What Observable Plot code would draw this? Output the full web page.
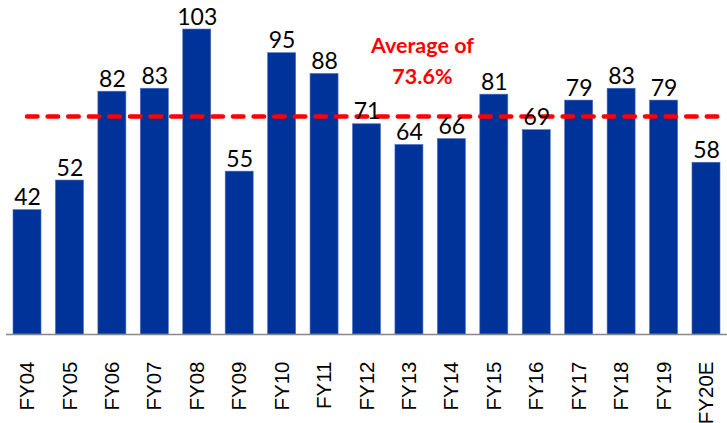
<!DOCTYPE html>
<html>
<head>
<meta charset="utf-8">
<script src="https://cdn.jsdelivr.net/npm/d3@7"></script>
<script src="https://cdn.jsdelivr.net/npm/@observablehq/plot@0.6"></script>
<style>
  html, body { margin: 0; padding: 0; background: #fff; }
  #chart svg { display: block; }
</style>
</head>
<body>
<div id="chart"></div>
<script>
const categories = ["FY04","FY05","FY06","FY07","FY08","FY09","FY10","FY11","FY12","FY13","FY14","FY15","FY16","FY17","FY18","FY19","FY20E"];
const values = [42, 52, 82, 83, 103, 55, 95, 88, 71, 64, 66, 81, 69, 79, 83, 79, 58];
const averageValue = 73.6;
const averageLabel = "Average of\n73.6%";
const annotationCategory = "FY13";

const data = categories.map((c, i) => ({cat: c, val: values[i]}));

const chart = Plot.plot({
  width: 727,
  height: 423,
  marginTop: 0,
  marginBottom: 89,
  marginLeft: 6,
  marginRight: 0,
  style: {background: "#fff"},
  x: {domain: categories, paddingInner: 0.34, paddingOuter: 0.165, round: false, label: null},
  y: {domain: [0, 112.8], axis: null},
  marks: [
    Plot.barY(data, {x: "cat", y: "val", fill: "#003399", stroke: "#4a6fc0", strokeWidth: 0.6}),
    Plot.ruleY([0], {stroke: "#888888", strokeWidth: 1.5}),
    Plot.ruleY([averageValue], {stroke: "#ff0000", strokeWidth: 4.5, strokeDasharray: "10.5,10.1", strokeLinecap: "round", insetLeft: 21, insetRight: 6}),
    Plot.text(data, {x: "cat", y: "val", text: d => String(d.val), lineAnchor: "bottom", dy: -5, fontSize: 23, fontFamily: "Lato", fill: "#000"}),
    Plot.text([averageLabel], {x: () => annotationCategory, y: () => averageValue, text: d => d, lineAnchor: "bottom", lineHeight: 1.4, dx: 13, dy: -33, fontSize: 21.5, fontWeight: "bold", fontFamily: "Lato", fill: "#ff0000"}),
    Plot.axisX({tickRotate: -90, tickSize: 0, tickPadding: 27, fontSize: 20.5, fontFamily: "Liberation Sans", label: null, color: "#000"})
  ]
});
document.getElementById("chart").appendChild(chart);
</script>
</body>
</html>
